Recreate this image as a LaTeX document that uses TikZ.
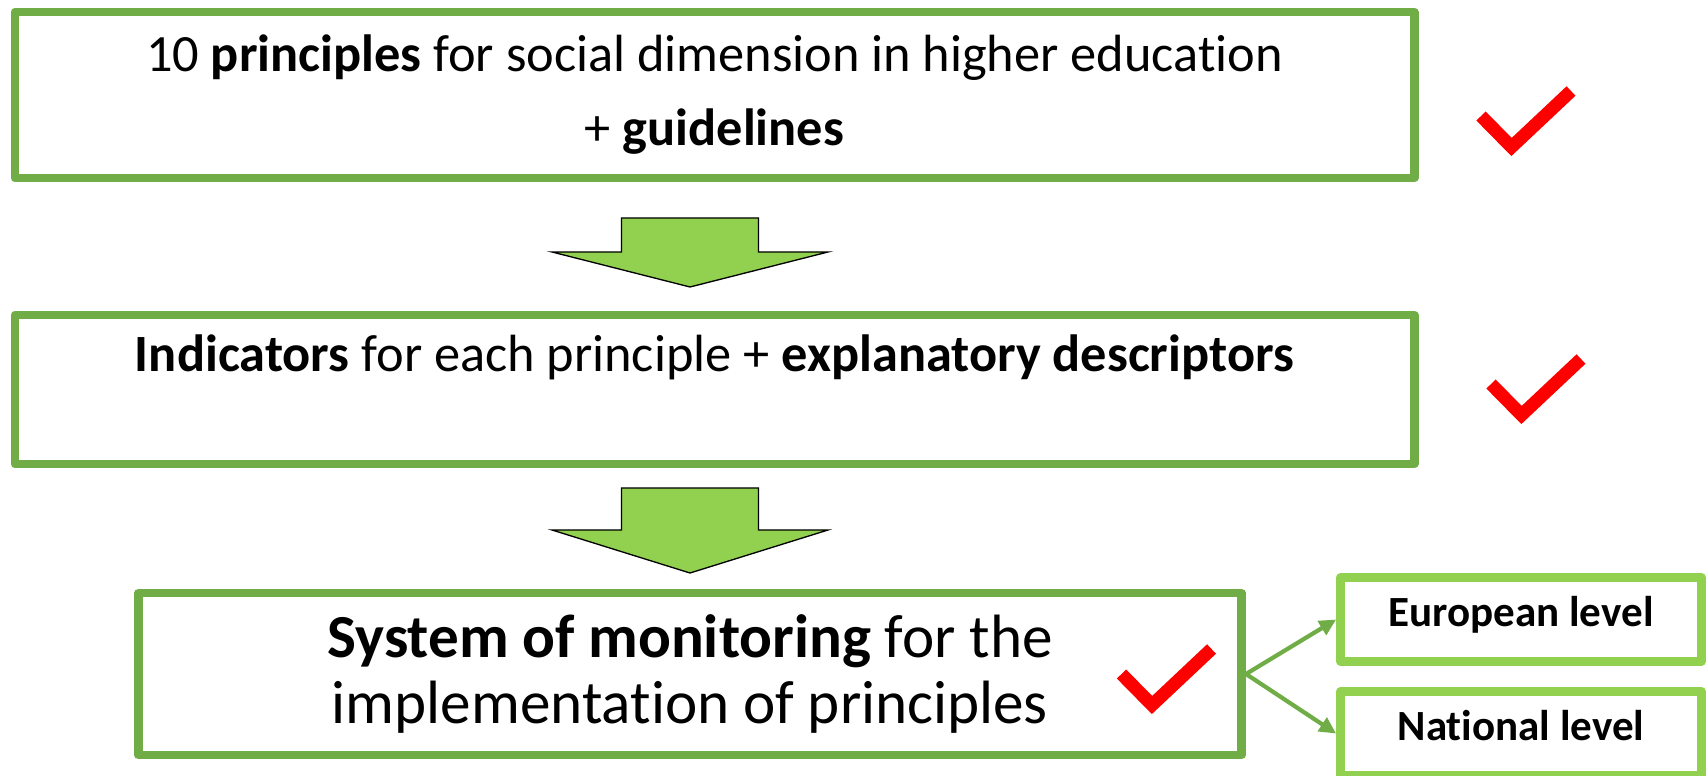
\documentclass[tikz,border=0pt]{standalone}
\usepackage{fontspec}
\setmainfont{Carlito}[Ligatures=NoCommon]
\usetikzlibrary{arrows.meta,calc}
\definecolor{boxgreen}{HTML}{70AD47}
\definecolor{levelgreen}{HTML}{92D050}
\def\blockarrow(#1:#2:#3:#4){\draw[fill=levelgreen, line width=0.75pt] ({#1-1.37},#2) -- ({#1+1.37},#2) -- ({#1+1.37},#3) -- ({#1+2.76},#3) -- (#1,#4) -- ({#1-2.76},#3) -- ({#1-1.37},#3) -- cycle;}
\def\redtick(#1,#2){\draw[red, line width=7.4pt] ({#1-0.61},{#2+0.62}) -- (#1,#2) -- ({#1+1.19},{#2+1.12});}

\begin{document}
\begin{tikzpicture}[
	mainbox/.style={draw=boxgreen, line width=5.1pt, line join=round, align=center, font=\fontsize{29.8}{42.1}\selectfont},
	levelbox/.style={draw=levelgreen, line width=5pt, line join=round, minimum width=7.22cm, minimum height=1.68cm, text height=17pt, text depth=8.5pt, font=\fontsize{24.5}{29}\selectfont\bfseries},
	levelarrow/.style={draw=boxgreen, line width=2.4pt, -{Triangle[length=9.5pt,width=9pt]}}]
			%%%%% START %%%%%
			\useasboundingbox (0, 0) rectangle (34.16, 15.5);
			
			\node[mainbox, minimum width=27.98cm, minimum height=3.32cm] (principles) at (14.29, 13.6) {10 \textbf{principles} for social dimension in higher education\\+ \textbf{guidelines}};
			\redtick(30.23, 12.56)
			
			\blockarrow(13.8:11.14:10.46:9.76)
			
			\node[mainbox, minimum width=27.98cm, minimum height=2.98cm, text height=20.5pt, text depth=41.5pt] (indicators) at (14.29, 7.71) {\textbf{Indicators} for each principle + \textbf{explanatory descriptors}};
			\redtick(30.43, 7.2)
			
			\blockarrow(13.8:5.74:4.9:4.04)
			
			\node[mainbox, minimum width=22.06cm, minimum height=3.24cm, font=\fontsize{34.8}{37.6}\selectfont] (monitoring) at (13.8, 2.02) {\textbf{System of monitoring} for the\\implementation of principles};
			\redtick(23.04, 1.4)
			
			\node[levelbox] (european) at (30.42, 3.11) {European level};
			\node[levelbox] (national) at (30.42, 0.83) {National level};
			
			\draw[levelarrow] (monitoring.east) -- (european.west);
			\draw[levelarrow] (monitoring.east) -- (national.west);
			%%%%% END %%%%%
\end{tikzpicture}
\end{document}
